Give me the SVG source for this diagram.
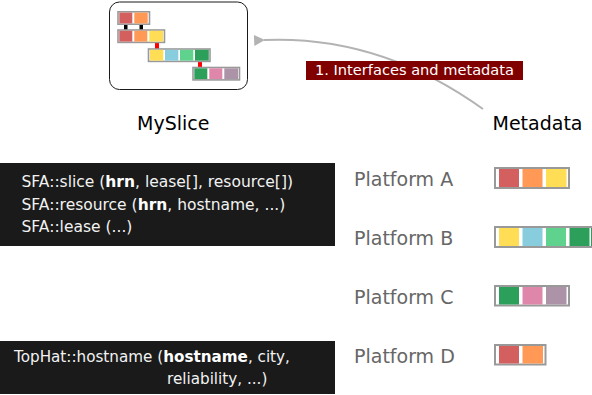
<svg xmlns="http://www.w3.org/2000/svg" width="592" height="395" viewBox="0 0 592 395">
<defs>
<style>
text{font-family:"DejaVu Sans","Liberation Sans",sans-serif}
.bar{fill:#ffffff;stroke:#999999;stroke-width:2}
.mbar{fill:#ffffff;stroke:#999999;stroke-width:1.6}
.red{fill:#d35f5f}.ora{fill:#ff9955}.yel{fill:#ffdd55}.blu{fill:#87cdde}
.grn{fill:#5fd38d}.dgr{fill:#2ca05a}.pnk{fill:#de87aa}.mau{fill:#ac93a7}
.title{font-size:19px;fill:#000000}
.plat{font-size:19px;fill:#666666}
.code{font-size:15.5px;fill:#f2f2f2}
.code tspan.b{font-weight:bold;fill:#ffffff}
.dark{fill:#1a1a1a}
</style>
<marker id="arr" viewBox="0 0 10 10" refX="1" refY="5" markerWidth="5.5" markerHeight="5.5" orient="auto" markerUnits="strokeWidth">
<path d="M10,0 L0,5 L10,10 Z" fill="#b3b3b3"/>
</marker>
</defs>

<g id="myslice">
<rect x="109.5" y="2" width="138" height="87.5" rx="10" ry="10" fill="#ffffff" stroke="#1a1a1a" stroke-width="1"/>
<rect x="124" y="24" width="3.5" height="6" fill="#000000"/>
<rect x="139.5" y="24" width="3.5" height="6" fill="#000000"/>
<rect x="155" y="42" width="4" height="7" fill="#ff0000"/>
<rect x="198" y="61" width="4" height="7" fill="#ff0000"/>
<rect class="mbar" x="118" y="11.8" width="31.5" height="12.4"/>
<rect class="red" x="119.3" y="12.6" width="13" height="10.8"/>
<rect class="ora" x="134.3" y="12.6" width="13.4" height="10.8"/>
<rect class="mbar" x="118" y="30" width="46.5" height="12.4"/>
<rect class="red" x="119.3" y="30.8" width="13" height="10.8"/>
<rect class="ora" x="134.3" y="30.8" width="13" height="10.8"/>
<rect class="yel" x="149.3" y="30.8" width="13.8" height="10.8"/>
<rect class="mbar" x="148.5" y="49" width="61.5" height="12.4"/>
<rect class="yel" x="150" y="49.8" width="13.3" height="10.8"/>
<rect class="blu" x="165" y="49.8" width="13.3" height="10.8"/>
<rect class="grn" x="180" y="49.8" width="13.3" height="10.8"/>
<rect class="dgr" x="195" y="49.8" width="13.8" height="10.8"/>
<rect class="mbar" x="193" y="67.5" width="46.5" height="12.4"/>
<rect class="dgr" x="194.3" y="68.3" width="13" height="10.8"/>
<rect class="pnk" x="209.3" y="68.3" width="13" height="10.8"/>
<rect class="mau" x="224.3" y="68.3" width="13.8" height="10.8"/>
<text class="title" x="137" y="130">MySlice</text>
</g>

<g id="metadata">
<text class="title" x="492.5" y="130">Metadata</text>
</g>

<g id="connectors">
<path d="M483,109 Q380,35 264,40" fill="none" stroke="#b3b3b3" stroke-width="2" marker-end="url(#arr)"/>
</g>

<g id="label-interfaces">
<rect x="306" y="61" width="217" height="19" fill="#800000"/>
<text x="315" y="75" style="font-size:14.6px;fill:#ffffff">1. Interfaces and metadata</text>
</g>

<g id="sfa-box">
<rect class="dark" x="0" y="163" width="335" height="83"/>
<text class="code" x="21.5" y="187">SFA::slice (<tspan class="b">hrn</tspan>, lease[], resource[])</text>
<text class="code" x="21.5" y="209.5">SFA::resource (<tspan class="b">hrn</tspan>, hostname, ...)</text>
<text class="code" x="21.5" y="232">SFA::lease (...)</text>
</g>

<g id="tophat-box">
<rect class="dark" x="0" y="341" width="335" height="53"/>
<text class="code" x="14" y="362" style="font-size:15.2px">TopHat::hostname (<tspan class="b">hostname</tspan>, city,</text>
<text class="code" x="167" y="383.5" style="font-size:15.2px">reliability, ...)</text>
</g>

<g id="platform-a">
<text class="plat" x="354" y="186">Platform A</text>
<rect class="bar" x="495" y="168" width="74" height="20"/>
<rect class="red" x="499" y="169" width="20" height="18"/>
<rect class="ora" x="522.5" y="169" width="20" height="18"/>
<rect class="yel" x="546" y="169" width="20.5" height="18"/>
</g>

<g id="platform-b">
<text class="plat" x="354" y="244.5">Platform B</text>
<rect class="bar" x="495" y="227" width="110" height="20"/>
<rect class="yel" x="499" y="228" width="20" height="18"/>
<rect class="blu" x="522.5" y="228" width="20" height="18"/>
<rect class="grn" x="546" y="228" width="20" height="18"/>
<rect class="dgr" x="569.5" y="228" width="20" height="18"/>
<rect class="dgr" x="591" y="228" width="20" height="18"/>
</g>

<g id="platform-c">
<text class="plat" x="354" y="304">Platform C</text>
<rect class="bar" x="495" y="286" width="74" height="19.5"/>
<rect class="dgr" x="499" y="287" width="20" height="17.5"/>
<rect class="pnk" x="522.5" y="287" width="20" height="17.5"/>
<rect class="mau" x="546" y="287" width="20.5" height="17.5"/>
</g>

<g id="platform-d">
<text class="plat" x="354" y="363">Platform D</text>
<rect class="bar" x="495" y="345" width="50.5" height="19.5"/>
<rect class="red" x="499" y="346" width="20" height="17.5"/>
<rect class="ora" x="522.5" y="346" width="20.5" height="17.5"/>
</g>
</svg>
